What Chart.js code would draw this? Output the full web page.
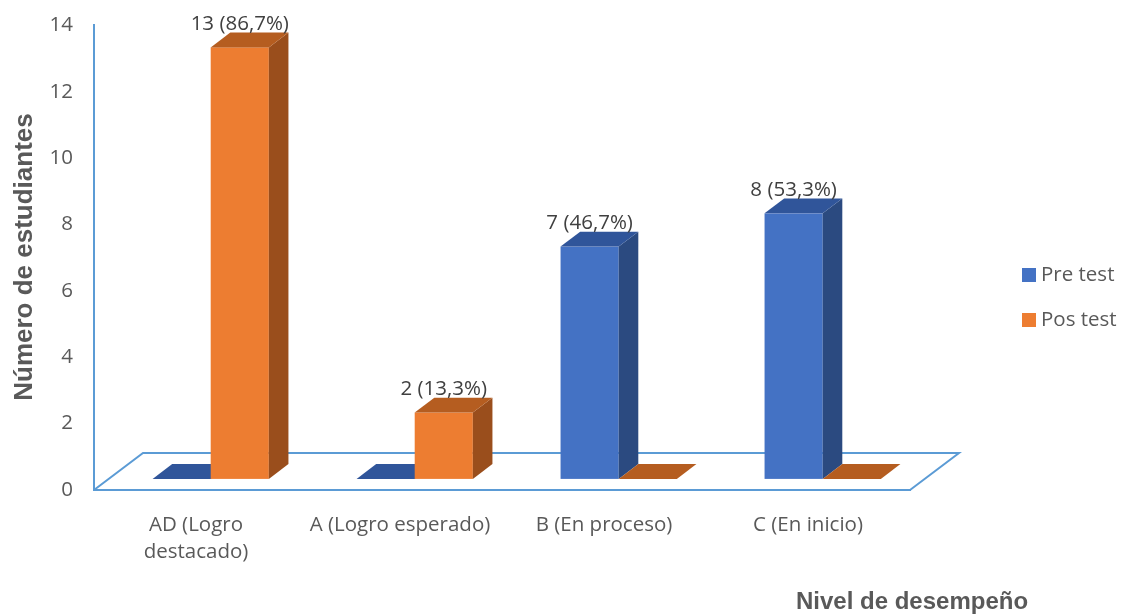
<!DOCTYPE html>
<html>
<head>
<meta charset="utf-8">
<script src="https://cdn.jsdelivr.net/npm/chart.js@4"></script>
<style>
  html, body { margin: 0; padding: 0; background: #ffffff; }
  #wrap { width: 1123px; height: 615px; }
</style>
</head>
<body>
<div id="wrap"><canvas id="c" width="1123" height="615"></canvas></div>
<script>
// ---- data ----
const categories = [["AD (Logro", "destacado)"], "A (Logro esperado)", "B (En proceso)", "C (En inicio)"];
const seriesNames = ["Pre test", "Pos test"];
const preValues = [0, 0, 7, 8];
const posValues = [13, 2, 0, 0];
const prePercent = [0, 0, 46.7, 53.3];
const posPercent = [86.7, 13.3, 0, 0];
const yTickValues = [0, 2, 4, 6, 8, 10, 12, 14];
const yTitle = "Número de estudiantes";
const xTitle = "Nivel de desempeño";

// ---- styles ----
const frontColors = ["#4472C4", "#ED7D31"];
const sideColors = ["#2B4A80", "#9A4E1C"];
const topColors = ["#30559A", "#B55D20"];
const axisColor = "#5B9BD5";
const textColor = "#595959";
const labelColor = "#404040";
const baseFont = "'Open Sans', Lato, sans-serif";
const fontSize = 20.5;

// projection of the 3D floor depth (pixels)
const DEPTH_X = 49, DEPTH_Y = -37;
const FRONT_F = 0.3, BACK_F = 0.7;

function fmtLabel(v, p) {
  return v + " (" + p.toFixed(1).replace(".", ",") + "%)";
}
const percents = [prePercent, posPercent];

const bars3d = {
  id: "bars3d",
  beforeDatasetsDraw(chart) {
    const ctx = chart.ctx;
    const a = chart.chartArea;
    // floor (back and right edges; left/front edges are the axis borders)
    ctx.save();
    ctx.strokeStyle = axisColor;
    ctx.lineWidth = 2;
    ctx.beginPath();
    ctx.moveTo(a.left, a.bottom);
    ctx.lineTo(a.left + DEPTH_X, a.bottom + DEPTH_Y);
    ctx.lineTo(a.right + DEPTH_X, a.bottom + DEPTH_Y);
    ctx.lineTo(a.right, a.bottom);
    ctx.stroke();
    ctx.restore();

    // boxes
    const fx = DEPTH_X * FRONT_F, fy = DEPTH_Y * FRONT_F;
    const dx = DEPTH_X * (BACK_F - FRONT_F), dy = DEPTH_Y * (BACK_F - FRONT_F);
    const n = chart.data.labels.length;
    for (let i = 0; i < n; i++) {
      for (let d = 0; d < chart.data.datasets.length; d++) {
        const el = chart.getDatasetMeta(d).data[i];
        const x0 = el.x - el.width / 2 + fx, x1 = el.x + el.width / 2 + fx;
        const yTop = el.y + fy, yBase = el.base + fy;
        ctx.save();
        if (yBase - yTop > 0.5) {
          ctx.fillStyle = frontColors[d];
          ctx.fillRect(x0, yTop, x1 - x0, yBase - yTop);
          ctx.fillStyle = sideColors[d];
          ctx.beginPath();
          ctx.moveTo(x1, yBase);
          ctx.lineTo(x1 + dx, yBase + dy);
          ctx.lineTo(x1 + dx, yTop + dy);
          ctx.lineTo(x1, yTop);
          ctx.closePath();
          ctx.fill();
        }
        ctx.fillStyle = topColors[d];
        ctx.beginPath();
        ctx.moveTo(x0, yTop);
        ctx.lineTo(x1, yTop);
        ctx.lineTo(x1 + dx, yTop + dy);
        ctx.lineTo(x0 + dx, yTop + dy);
        ctx.closePath();
        ctx.fill();
        ctx.restore();
      }
    }
  },
  beforeDatasetDraw() {
    return false; // boxes drawn above
  },
  afterDatasetsDraw(chart) {
    const ctx = chart.ctx;
    const fx = DEPTH_X * FRONT_F;
    const dyBack = DEPTH_Y * BACK_F;
    ctx.save();
    ctx.font = fontSize + "px " + baseFont;
    ctx.fillStyle = labelColor;
    ctx.textAlign = "center";
    ctx.textBaseline = "alphabetic";
    chart.data.datasets.forEach((ds, d) => {
      const meta = chart.getDatasetMeta(d);
      ds.data.forEach((v, i) => {
        if (!v) return;
        const el = meta.data[i];
        ctx.fillText(fmtLabel(v, percents[d][i]), el.x + fx, el.y + dyBack - 3);
      });
    });
    ctx.restore();
  },
  afterDraw(chart) {
    const ctx = chart.ctx;
    ctx.save();
    // legend
    ctx.font = fontSize + "px " + baseFont;
    ctx.textBaseline = "middle";
    ctx.textAlign = "left";
    const ly = [275, 320];
    chart.data.datasets.forEach((ds, d) => {
      ctx.fillStyle = frontColors[d];
      ctx.fillRect(1022, ly[d] - 7, 14, 14);
      ctx.fillStyle = textColor;
      ctx.fillText(ds.label, 1041, ly[d]);
    });
    // axis titles
    ctx.fillStyle = textColor;
    ctx.font = "bold 24px 'Liberation Sans', Arial, sans-serif";
    ctx.textBaseline = "alphabetic";
    ctx.textAlign = "left";
    ctx.fillText(xTitle, 796, 609);
    ctx.translate(32, 257);
    ctx.rotate(-Math.PI / 2);
    ctx.font = "bold 26px 'Liberation Sans', Arial, sans-serif";
    ctx.textAlign = "center";
    ctx.fillText(yTitle, 0, 0);
    ctx.restore();
  }
};

new Chart(document.getElementById("c"), {
  type: "bar",
  data: {
    labels: categories,
    datasets: [
      { label: seriesNames[0], data: preValues, backgroundColor: frontColors[0], categoryPercentage: 0.57, barPercentage: 1.0 },
      { label: seriesNames[1], data: posValues, backgroundColor: frontColors[1], categoryPercentage: 0.57, barPercentage: 1.0 }
    ]
  },
  options: {
    responsive: false,
    animation: false,
    devicePixelRatio: 1,
    layout: { padding: { top: 25, right: 213, bottom: 0, left: 0 } },
    plugins: { legend: { display: false }, tooltip: { enabled: false } },
    scales: {
      x: {
        grid: { display: false },
        border: { display: true, color: axisColor, width: 2 },
        ticks: { color: textColor, font: { family: baseFont, size: fontSize, lineHeight: 1.3 }, padding: 14, maxRotation: 0, autoSkip: false },
        afterFit(s) { s.height = 125; }
      },
      y: {
        min: 0,
        max: 14,
        afterBuildTicks(s) { s.ticks = yTickValues.map(v => ({ value: v })); },
        grid: { display: false },
        border: { display: true, color: axisColor, width: 2 },
        ticks: { color: textColor, font: { family: baseFont, size: fontSize }, padding: 13 },
        afterFit(s) { s.width = 94; }
      }
    }
  },
  plugins: [bars3d]
});
</script>
</body>
</html>
